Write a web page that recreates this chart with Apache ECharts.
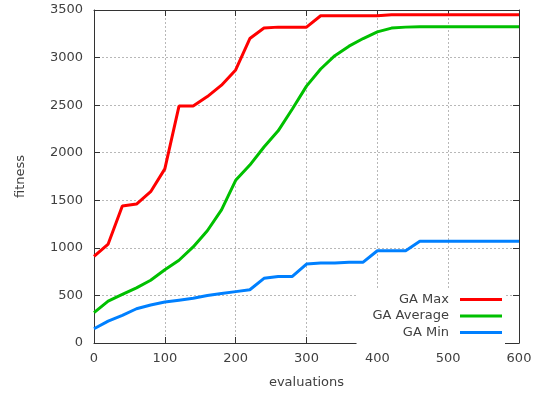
<!DOCTYPE html>
<html>
<head>
<meta charset="utf-8">
<script src="https://cdn.jsdelivr.net/npm/echarts@6/dist/echarts.min.js"></script>
<style>
  html, body { margin: 0; padding: 0; background: #fff; }
  #chart { width: 543px; height: 397px; }
</style>
</head>
<body>
<div id="chart"></div>
<script>
// evaluations (x) and the three fitness curves
var evaluations = [0, 20, 40, 60, 80, 100, 120, 140, 160, 180, 200, 220, 240, 260, 280, 300,
    320, 340, 360, 380, 400, 420, 440, 460, 480, 500, 520, 540, 560, 580, 600];
var gaMax = [910, 1040, 1440, 1460, 1590, 1830, 2490, 2490, 2590, 2710, 2870, 3200, 3310, 3320, 3320, 3320,
    3440, 3440, 3440, 3440, 3440, 3450, 3450, 3450, 3450, 3450, 3450, 3450, 3450, 3450, 3450];
var gaAverage = [320, 440, 510, 580, 660, 770, 870, 1010, 1180, 1400, 1710, 1870, 2060, 2230, 2460, 2700,
    2880, 3020, 3120, 3200, 3270, 3310, 3320, 3325, 3325, 3325, 3325, 3325, 3325, 3325, 3325];
var gaMin = [150, 230, 290, 360, 400, 430, 450, 470, 500, 520, 540, 560, 680, 700, 700, 830,
    840, 840, 850, 850, 970, 970, 970, 1070, 1070, 1070, 1070, 1070, 1070, 1070, 1070];
var xTicks = [0, 100, 200, 300, 400, 500, 600];
var yTicks = [0, 500, 1000, 1500, 2000, 2500, 3000, 3500];

function pairs(ys) {
    return evaluations.map(function (x, i) { return [x, ys[i]]; });
}

var myChart = echarts.init(document.getElementById('chart'));

var font = 'DejaVu Sans';
var textColor = '#404040';
var frame = { show: true, onZero: false, lineStyle: { color: '#333333', width: 1 } };
var innerTick = { show: true, inside: true, length: 6, lineStyle: { color: '#333333' } };
var dotted = { show: true, lineStyle: { color: '#b8b8b8', type: [2, 2], width: 1 } };

var option = {
    animation: false,
    backgroundColor: '#fff',
    grid: { left: 94, right: 24, top: 10, bottom: 54 },
    legend: {
        orient: 'vertical',
        align: 'right',
        right: 38,
        top: 288,
        padding: [4, 3, 4, 16],
        backgroundColor: '#fff',
        icon: 'rect',
        itemWidth: 42,
        itemHeight: 3,
        itemGap: 1.5,
        textStyle: { fontFamily: font, fontSize: 13, color: textColor, lineHeight: 15, padding: [0, 6, 0, 0] },
        data: ['GA Max', 'GA Average', 'GA Min']
    },
    xAxis: [{
        type: 'value',
        min: xTicks[0],
        max: xTicks[xTicks.length - 1],
        interval: 100,
        name: 'evaluations',
        nameLocation: 'middle',
        nameGap: 33,
        nameTextStyle: { fontFamily: font, fontSize: 13, color: textColor },
        axisLine: frame,
        axisTick: innerTick,
        axisLabel: { fontFamily: font, fontSize: 13, color: textColor, margin: 9 },
        splitLine: dotted
    }, {
        type: 'value',
        position: 'top',
        min: xTicks[0],
        max: xTicks[xTicks.length - 1],
        interval: 100,
        axisLine: frame,
        axisTick: innerTick,
        axisLabel: { show: false },
        splitLine: { show: false }
    }],
    yAxis: [{
        type: 'value',
        min: yTicks[0],
        max: yTicks[yTicks.length - 1],
        interval: 500,
        name: 'fitness',
        nameLocation: 'middle',
        nameGap: 67,
        nameTextStyle: { fontFamily: font, fontSize: 13, color: textColor },
        axisLine: frame,
        axisTick: innerTick,
        axisLabel: {
            fontFamily: font, fontSize: 13, color: textColor, margin: 11,
            formatter: function (v) { return String(v); }
        },
        splitLine: dotted
    }, {
        type: 'value',
        position: 'right',
        min: yTicks[0],
        max: yTicks[yTicks.length - 1],
        interval: 500,
        axisLine: frame,
        axisTick: innerTick,
        axisLabel: { show: false },
        splitLine: { show: false }
    }],
    series: [{
        name: 'GA Max',
        type: 'line',
        showSymbol: false,
        itemStyle: { color: '#ff0000' },
        lineStyle: { color: '#ff0000', width: 3 },
        data: pairs(gaMax)
    }, {
        name: 'GA Average',
        type: 'line',
        showSymbol: false,
        itemStyle: { color: '#00c000' },
        lineStyle: { color: '#00c000', width: 3 },
        data: pairs(gaAverage)
    }, {
        name: 'GA Min',
        type: 'line',
        showSymbol: false,
        itemStyle: { color: '#0080ff' },
        lineStyle: { color: '#0080ff', width: 3 },
        data: pairs(gaMin)
    }]
};

myChart.setOption(option);
</script>
</body>
</html>
